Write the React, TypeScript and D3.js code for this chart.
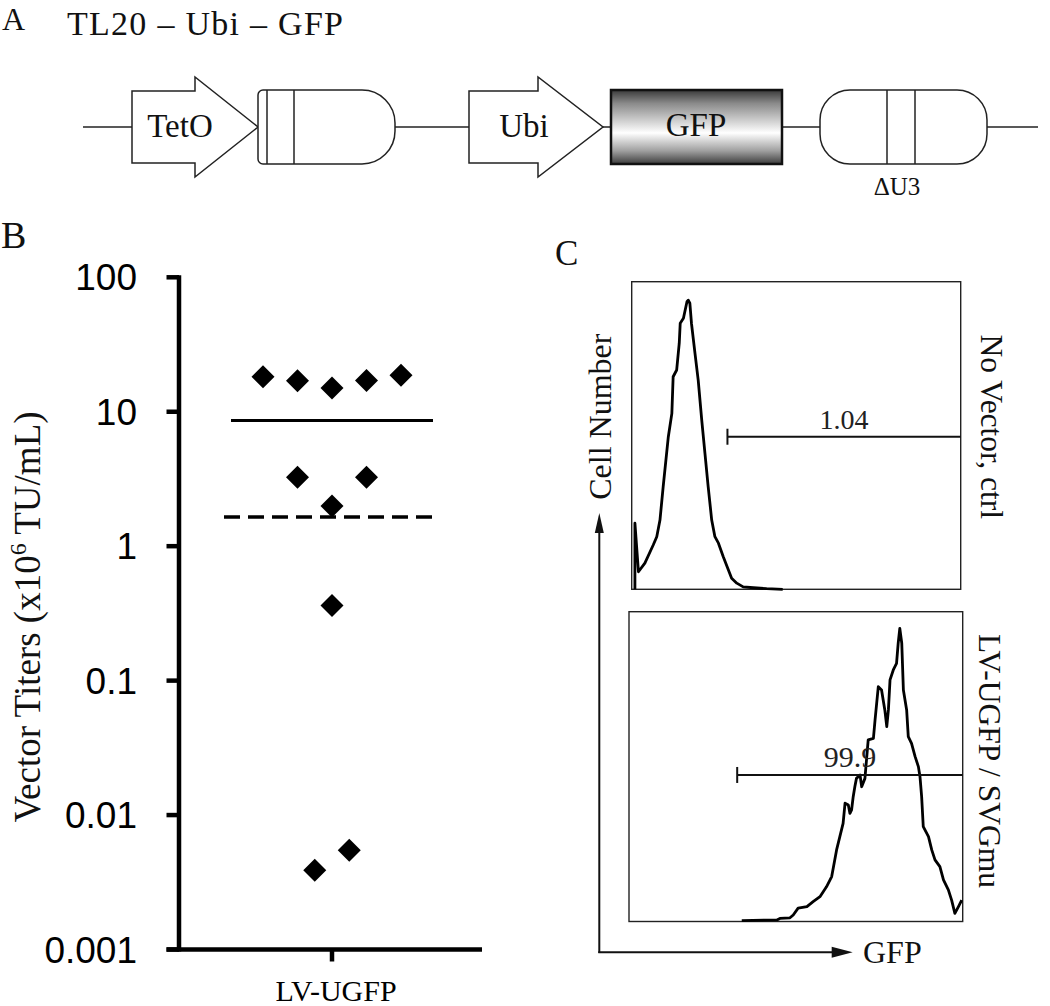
import React from 'react';
import * as d3 from 'd3';

// ---------- Panel A: construct ----------
const TITLE = 'TL20 – Ubi – GFP';
const PROMOTERS = ['TetO', 'Ubi'];
const GENE = 'GFP';
const LTR3_LABEL = 'ΔU3';

// ---------- Panel B: vector titers ----------
const CATEGORY = 'LV-UGFP';
const Y_TICKS = [100, 10, 1, 0.1, 0.01, 0.001];
const Y_TICK_LABELS = ['100', '10', '1', '0.1', '0.01', '0.001'];
const TITERS = [18.2, 17.0, 15.0, 17.1, 18.7, 3.25, 1.99, 3.25, 0.362, 0.00388, 0.00547];

// ---------- Panel C: flow histograms ----------
const CTRL_LABEL = 'No Vector, ctrl';
const UGFP_LABEL = 'LV-UGFP / SVGmu';
const CTRL_GFP = [10, 10, 21, 41, 67, 78, 88, 98, 114, 125, 129, 140, 148, 151, 161, 172, 176, 181, 186, 197, 207, 218, 228, 238, 249, 259, 270, 285, 301, 311, 327, 347, 379, 420, 470];
const CTRL_COUNT = [0, 21.5, 5.7, 8.5, 14.4, 17.1, 22.5, 33.4, 49.6, 57.2, 69.1, 71.3, 80, 86.5, 88.1, 93.5, 94, 93, 86.5, 76.7, 68, 55, 44.2, 33.4, 22.5, 17.1, 15.0, 10.6, 6.3, 3.6, 2.0, 0.8, 0.5, 0.2, 0];
const UGFP_GFP = [346, 454, 463, 494, 504, 519, 546, 565, 586, 606, 622, 637, 647, 657, 663, 673, 678, 683, 688, 693, 698, 709, 714, 724, 734, 750, 755, 765, 775, 785, 791, 796, 801, 811, 821, 826, 831, 837, 842, 852, 857, 867, 878, 888, 893, 898, 903, 919, 929, 939, 954, 965, 980, 990, 1000, 1011, 1021];
const UGFP_COUNT = [0.3, 0.5, 1.0, 1.2, 2.1, 4.3, 4.8, 6.4, 8.0, 11.2, 14.5, 23.1, 27.4, 31.7, 38.2, 37.6, 34.9, 36.0, 40.3, 43.5, 46.2, 47.3, 43.5, 46.2, 58.6, 59.1, 65.0, 75.8, 74.7, 68.3, 62.9, 68.3, 78.0, 81.2, 83.3, 89.8, 94.6, 89.8, 74.7, 68.3, 59.7, 57.5, 53.2, 50.0, 46.7, 40.3, 30.6, 27.4, 23.1, 19.9, 17.7, 13.4, 10.2, 6.9, 2.6, 4.8, 6.9];
const GATE_STARTS = [298, 332];
const GATE_LEVELS = [49.6, 47.3];
const GATE_LABELS = ['1.04', '99.9'];
const CHANNEL_MAX = 1024;
const COUNT_MAX = 100;

const SERIF = '"Liberation Serif", "Times New Roman", serif';
const SANS = '"Liberation Sans", Arial, sans-serif';

function Arrow({ x0, x1, tip, top, bottom, headTop, headBottom, label, labelX }: any) {
  const mid = (top + bottom) / 2;
  const pts = [[x0, top], [x1, top], [x1, headTop], [tip, mid], [x1, headBottom], [x1, bottom], [x0, bottom]];
  return (
    <g>
      <polygon points={pts.map((p) => p.join(',')).join(' ')} fill="#fff" stroke="#222" strokeWidth={1.5} />
      <text x={labelX} y={mid + 10} fontFamily={SERIF} fontSize={33} textAnchor="middle" fill="#111">{label}</text>
    </g>
  );
}

function PanelA() {
  const top = 90, bottom = 164, mid = 127;
  const r = 33;
  const ltr5 = { x0: 258, x1: 395 };
  const ltr5Path = `M ${ltr5.x0 + 5} ${top} H ${ltr5.x1 - r} A ${r} ${r} 0 0 1 ${ltr5.x1} ${top + r} V ${bottom - r} A ${r} ${r} 0 0 1 ${ltr5.x1 - r} ${bottom} H ${ltr5.x0 + 5} A 5 5 0 0 1 ${ltr5.x0} ${bottom - 5} V ${top + 5} A 5 5 0 0 1 ${ltr5.x0 + 5} ${top} Z`;
  return (
    <g>
      <defs>
        <linearGradient id="gfpGrad" x1="0" y1="0" x2="0" y2="1">
          <stop offset="0" stopColor="#3a3a3a" />
          <stop offset="0.18" stopColor="#8a8a8a" />
          <stop offset="0.58" stopColor="#ffffff" />
          <stop offset="0.82" stopColor="#a0a0a0" />
          <stop offset="1" stopColor="#3c3c3c" />
        </linearGradient>
      </defs>
      <text x={2} y={30} fontFamily={SERIF} fontSize={32} fill="#111">A</text>
      <text x={67} y={35} fontFamily={SERIF} fontSize={34} fill="#111" textLength={276} lengthAdjust="spacing">{TITLE}</text>
      <line x1={83} x2={1038} y1={mid} y2={mid} stroke="#222" strokeWidth={1.6} />
      <Arrow x0={132} x1={195} tip={258} top={91} bottom={163} headTop={77} headBottom={177} label={PROMOTERS[0]} labelX={180} />
      <path d={ltr5Path} fill="#fff" stroke="#222" strokeWidth={1.5} />
      <line x1={267} x2={267} y1={top} y2={bottom} stroke="#222" strokeWidth={1.5} />
      <line x1={294} x2={294} y1={top} y2={bottom} stroke="#222" strokeWidth={1.5} />
      <Arrow x0={469} x1={538} tip={603} top={91} bottom={163} headTop={77} headBottom={177} label={PROMOTERS[1]} labelX={524} />
      <rect x={611} y={top} width={171} height={bottom - top} fill="url(#gfpGrad)" stroke="#111" strokeWidth={2.5} />
      <text x={696} y={mid + 9} fontFamily={SERIF} fontSize={33} textAnchor="middle" fill="#111">{GENE}</text>
      <rect x={820} y={top} width={167} height={bottom - top} rx={30} ry={30} fill="#fff" stroke="#222" strokeWidth={1.5} />
      <line x1={887} x2={887} y1={top} y2={bottom} stroke="#222" strokeWidth={1.5} />
      <line x1={915} x2={915} y1={top} y2={bottom} stroke="#222" strokeWidth={1.5} />
      <text x={897} y={195} fontFamily={SERIF} fontSize={25} textAnchor="middle" fill="#111">{LTR3_LABEL}</text>
    </g>
  );
}

function PanelB() {
  const y = d3.scaleLog().domain([0.001, 100]).range([949.5, 277.3]);
  const x = d3.scaleBand<string>().domain([CATEGORY]).range([182, 482]);
  const cx = (x(CATEGORY) as number) + x.bandwidth() / 2;
  const axisX = 179;
  const step = 34.5;

  // Prism-like column scatter: group points of similar value, spread each group symmetrically
  const order = d3.range(TITERS.length).sort((a, b) => TITERS[b] - TITERS[a]);
  const groupOf: number[] = new Array(TITERS.length);
  let g = -1;
  let groupTop = Infinity;
  order.forEach((i) => {
    const lv = Math.log10(TITERS[i]);
    if (g < 0 || groupTop - lv > 0.35) {
      g += 1;
      groupTop = lv;
    }
    groupOf[i] = g;
  });
  const offsets: number[] = new Array(TITERS.length);
  d3.range(g + 1).forEach((gi) => {
    const members = d3.range(TITERS.length).filter((i) => groupOf[i] === gi);
    members.forEach((i, k) => {
      offsets[i] = (k - (members.length - 1) / 2) * step;
    });
  });

  const mean = d3.mean(TITERS) as number;
  const geoMean = Math.pow(10, d3.mean(TITERS, (v) => Math.log10(v)) as number);
  const dHalf = 11.5;

  return (
    <g>
      <text x={1} y={248} fontFamily={SERIF} fontSize={38} fill="#111">B</text>
      <line x1={axisX} x2={axisX} y1={y(100) - 2} y2={y(0.001) + 2} stroke="#000" strokeWidth={4.5} />
      {Y_TICKS.map((t, i) => (
        <g key={t}>
          <line x1={166.5} x2={axisX} y1={y(t)} y2={y(t)} stroke="#000" strokeWidth={4.5} />
          <text x={137} y={y(t) + 13} fontFamily={SANS} fontSize={37} textAnchor="end" fill="#000">{Y_TICK_LABELS[i]}</text>
        </g>
      ))}
      <line x1={166.5} x2={482} y1={y(0.001)} y2={y(0.001)} stroke="#000" strokeWidth={4.5} />
      <line x1={cx} x2={cx} y1={y(0.001)} y2={y(0.001) + 12} stroke="#000" strokeWidth={4.5} />
      <text x={cx + 4} y={1001} fontFamily={SERIF} fontSize={30} textAnchor="middle" fill="#000">{CATEGORY}</text>
      <text transform={`translate(40,617) rotate(-90)`} fontFamily={SERIF} fontSize={37} textAnchor="middle" fill="#111">
        Vector Titers (x10<tspan fontSize={24} dy={-14}>6</tspan><tspan dy={14}> TU/mL)</tspan>
      </text>
      {TITERS.map((v, i) => {
        const px = cx + offsets[i];
        const py = y(v);
        return (
          <polygon
            key={i}
            points={`${px},${py - dHalf} ${px + dHalf},${py} ${px},${py + dHalf} ${px - dHalf},${py}`}
            fill="#000"
          />
        );
      })}
      <line x1={cx - 101} x2={cx + 101} y1={y(mean)} y2={y(mean)} stroke="#000" strokeWidth={3} />
      <line x1={cx - 108} x2={cx + 108} y1={y(geoMean)} y2={y(geoMean)} stroke="#000" strokeWidth={3.5} strokeDasharray="16,8" />
    </g>
  );
}

function Histogram({ x0, x1, y0, y1, gfp, count, gateStart, gateLevel, gateLabel, labelSize }: any) {
  const xs = d3.scaleLinear().domain([0, CHANNEL_MAX]).range([x0, x1]);
  const ys = d3.scaleLinear().domain([0, COUNT_MAX]).range([y1, y0]);
  const line = d3.line<number>().x((d: number, i: number) => xs(gfp[i])).y((d: number) => ys(d));
  const gx0 = xs(gateStart);
  const gx1 = xs(CHANNEL_MAX);
  const gy = ys(gateLevel);
  return (
    <g>
      <rect x={x0} y={y0} width={x1 - x0} height={y1 - y0} fill="#fff" stroke="#222" strokeWidth={1.4} />
      <path d={line(count) as string} fill="none" stroke="#000" strokeWidth={2.8} strokeLinejoin="round" />
      <line x1={gx0} x2={gx1} y1={gy} y2={gy} stroke="#111" strokeWidth={2} />
      <line x1={gx0} x2={gx0} y1={gy - 8} y2={gy + 8} stroke="#111" strokeWidth={2} />
      <text x={(gx0 + gx1) / 2} y={gy - 8} fontFamily={SERIF} fontSize={labelSize} textAnchor="middle" fill="#222">{gateLabel}</text>
    </g>
  );
}

function PanelC() {
  return (
    <g>
      <text x={555} y={265} fontFamily={SERIF} fontSize={35} fill="#111">C</text>
      <Histogram x0={631.7} x1={960.7} y0={281.7} y1={589.3} gfp={CTRL_GFP} count={CTRL_COUNT} gateStart={GATE_STARTS[0]} gateLevel={GATE_LEVELS[0]} gateLabel={GATE_LABELS[0]} labelSize={28} />
      <Histogram x0={629} x1={962.7} y0={611.7} y1={921.5} gfp={UGFP_GFP} count={UGFP_COUNT} gateStart={GATE_STARTS[1]} gateLevel={GATE_LEVELS[1]} gateLabel={GATE_LABELS[1]} labelSize={30} />
      <line x1={599.3} x2={599.3} y1={953} y2={530} stroke="#111" strokeWidth={2} />
      <polygon points="599.3,513 594.8,533 603.8,533" fill="#111" />
      <line x1={598.3} x2={835} y1={952.3} y2={952.3} stroke="#111" strokeWidth={2} />
      <polygon points="852.7,952.3 831.7,946.8 831.7,957.8" fill="#111" />
      <text x={863} y={963.3} fontFamily={SERIF} fontSize={32} fill="#111">GFP</text>
      <text transform="translate(611,416.7) rotate(-90)" fontFamily={SERIF} fontSize={32} textAnchor="middle" fill="#111">Cell Number</text>
      <text transform="translate(980.5,426.8) rotate(90)" fontFamily={SERIF} fontSize={31.5} textAnchor="middle" fill="#111">{CTRL_LABEL}</text>
      <text transform="translate(979,761) rotate(90)" fontFamily={SERIF} fontSize={31.5} textAnchor="middle" fill="#111">{UGFP_LABEL}</text>
    </g>
  );
}

export default function App() {
  return (
    <svg width={1050} height={1006} viewBox="0 0 1050 1006" style={{ position: 'absolute', left: 0, top: 0, display: 'block', background: '#fff' }}>
      <rect width={1050} height={1006} fill="#fff" />
      <PanelA />
      <PanelB />
      <PanelC />
    </svg>
  );
}
